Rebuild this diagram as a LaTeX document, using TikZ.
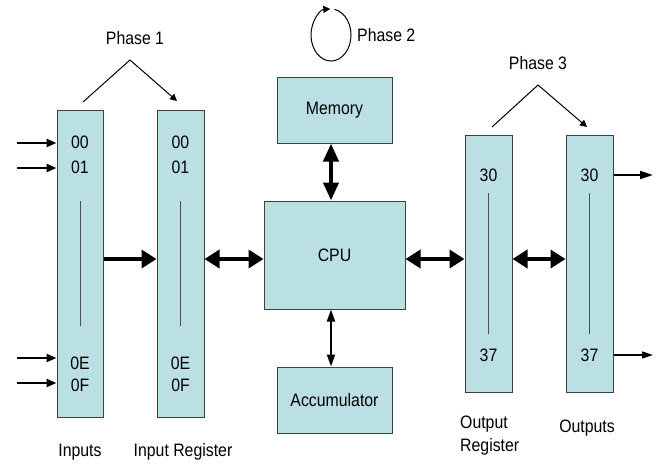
\documentclass[tikz,border=0pt]{standalone}
\usepackage{fontspec}
\setmainfont{Liberation Sans}[FakeStretch=0.88]
\usetikzlibrary{arrows.meta}
\begin{document}
\begin{tikzpicture}[x=1pt,y=-1pt,
  font=\fontsize{18}{21}\selectfont,
  box/.style={draw=black!75, line width=1pt, fill=boxfill, inner sep=0pt},
  inner/.style={draw=black!70, line width=1pt},
  big/.style={line width=4pt, {Triangle[length=15pt,width=18pt]}-{Triangle[length=15pt,width=18pt]}},
  bigone/.style={line width=4pt, -{Triangle[length=15pt,width=18pt]}},
  inarrow/.style={line width=2.2pt, -{Triangle[length=10pt,width=8pt]}},
  outarrow/.style={line width=2.2pt, -{Triangle[length=13pt,width=8pt]}},
  outarrowthin/.style={line width=1.5pt, -{Triangle[length=11pt,width=7pt]}},
  phase/.style={line width=1pt, -{Triangle[length=7pt,width=7pt]}}
]
\definecolor{boxfill}{RGB}{187,224,227}
\useasboundingbox (0,0) rectangle (659,464);

% boxes
\node[box, minimum width=46pt, minimum height=307pt] (in) at (80,263.5) {};
\node[box, minimum width=47pt, minimum height=307pt] (inreg) at (180.5,263.5) {};
\node[box, minimum width=141pt, minimum height=108pt] (cpu) at (334.5,255) {CPU};
\node[box, minimum width=115pt, minimum height=66pt] (mem) at (334.5,110) {Memory};
\node[box, minimum width=115pt, minimum height=66pt] (acc) at (334.5,400) {Accumulator};
\node[box, minimum width=47pt, minimum height=257pt] (outreg) at (488.5,263.5) {};
\node[box, minimum width=47pt, minimum height=257pt] (outs) at (589.5,263.5) {};

% register texts
\node (i00) at (80,142) {00};
\node (i01) at (80,167) {01};
\node (i0E) at (80,363) {0E};
\node (i0F) at (80,385) {0F};
\node (r00) at (180.5,142) {00};
\node (r01) at (180.5,167) {01};
\node (r0E) at (180.5,363) {0E};
\node (r0F) at (180.5,385) {0F};
\node (o30) at (488.5,175) {30};
\node (o37) at (488.5,355) {37};
\node (p30) at (589.5,175) {30};
\node (p37) at (589.5,355) {37};

% inner lines
\coordinate (il1) at (80,201); \coordinate (il2) at (80,326);
\coordinate (rl1) at (180.5,201); \coordinate (rl2) at (180.5,326);
\coordinate (ol1) at (488.5,193); \coordinate (ol2) at (488.5,334);
\coordinate (pl1) at (589.5,193); \coordinate (pl2) at (589.5,334);
\draw[inner] (il1) -- (il2);
\draw[inner] (rl1) -- (rl2);
\draw[inner] (ol1) -- (ol2);
\draw[inner] (pl1) -- (pl2);

% input arrows
\coordinate (a1) at (17,143);
\coordinate (a2) at (17,168);
\coordinate (a3) at (17,358);
\coordinate (a4) at (17,383);
\draw[inarrow] (a1) -- (a1 -| in.west);
\draw[inarrow] (a2) -- (a2 -| in.west);
\draw[inarrow] (a3) -- (a3 -| in.west);
\draw[inarrow] (a4) -- (a4 -| in.west);

% output arrows
\coordinate (b1) at (653,175);
\coordinate (b2) at (653,355);
\draw[outarrow] (b1 -| outs.east) -- (b1);
\draw[outarrowthin] (b2 -| outs.east) -- (b2);

% main horizontal arrows
\coordinate (h) at (0,259);
\draw[bigone] (h -| in.east) -- (h -| inreg.west);
\draw[big] (h -| inreg.east) -- (h -| cpu.west);
\draw[big] (h -| cpu.east) -- (h -| outreg.west);
\draw[big] (h -| outreg.east) -- (h -| outs.west);

% vertical arrows
\draw[line width=4pt, {Triangle[length=18pt,width=15pt]}-{Triangle[length=18pt,width=15pt]}]
  ([xshift=-3.5pt]mem.south) -- ([xshift=-3.5pt]cpu.north);
\draw[line width=2pt, {Triangle[length=12pt,width=8pt]}-{Triangle[length=12pt,width=8pt]}]
  ([xshift=-3.5pt]cpu.south) -- ([xshift=-3.5pt]acc.north);

% phases
\node (ph1) at (135,38) {Phase 1};
\coordinate (p1a) at (83,102); \coordinate (p1b) at (130,60); \coordinate (p1c) at (177,101);
\draw[phase] (p1a) -- (p1b) -- (p1c);

\node[anchor=west, inner sep=0pt] (ph2) at (357,35) {Phase 2};
\coordinate (cc) at (331,35);
\draw[line width=1pt, -{Triangle[length=7pt,width=7pt]}] (cc) ++(-80:20 and 26)
  arc[start angle=-80, end angle=268, x radius=20, y radius=26];

\node (ph3) at (538,63) {Phase 3};
\coordinate (p3a) at (492,127); \coordinate (p3b) at (538,85); \coordinate (p3c) at (587,127);
\draw[phase] (p3a) -- (p3b) -- (p3c);

% labels
\node (linputs) at (80,452) {Inputs};
\node (linreg) at (183,452) {Input Register};
\node[anchor=north west, align=left, inner sep=0pt, font=\fontsize{18}{23}\selectfont] (loutreg) at (460,416) {Output\\Register};
\node (louts) at (587,428) {Outputs};
\end{tikzpicture}
\end{document}
